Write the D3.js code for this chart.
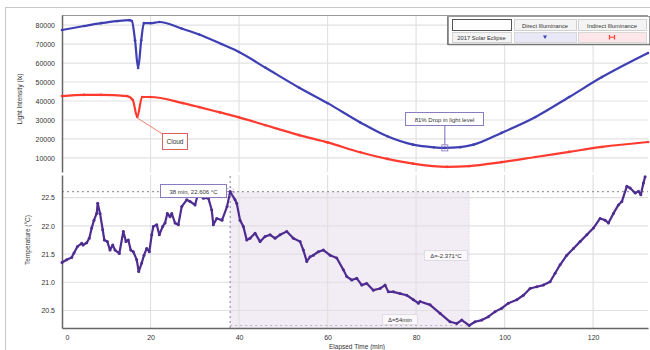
<!DOCTYPE html>
<html><head><meta charset="utf-8">
<script src="https://cdn.jsdelivr.net/npm/d3@7"></script>
<style>
body{margin:0;background:#fff;}
svg{display:block;font-family:"Liberation Sans",Arial,sans-serif;}
</style></head>
<body><svg id="c" width="650" height="350"></svg>
<script>
// ---- data ----
const directTime = [0,5,8.8,12.4,15.2,15.8,16.5,17.2,17.9,18.5,20,22,27,31,36,40,46,53.6,60,67.4,73.5,79.3,84,86.5,90,93,99.3,107,114.6,122,132.4];
const directLux  = [77400,79500,81000,82100,82600,82100,72000,57400,72000,81000,81000,81600,78200,75000,70000,65800,57500,47000,38900,28700,21400,17000,15600,15300,15700,17000,23200,31600,42100,52600,65300];
const indirectTime = [0,5,8.8,14.7,16.0,17.0,18.1,20,27.3,31,35.7,40,46,53.6,60,67.4,73.5,79.3,87,92,99.3,107,114.6,122,132.4];
const indirectLux  = [42600,43200,43200,42600,40500,31600,42100,42100,38900,36800,34000,31400,27200,22000,18200,13000,9500,7000,5300,5700,7800,10500,13200,15800,18400];
const tempTime = [0,1.06,2.19,2.71,3.46,4.45,4.75,5.58,6.17,6.71,7.23,7.84,8.07,8.59,9.2,9.56,10.24,10.85,11.46,11.98,12.95,13.85,14.46,14.98,15.53,16.11,16.88,17.33,18.01,18.53,19.14,19.73,20.27,20.63,21.4,21.99,22.76,23.28,23.8,24.41,24.79,25.54,26.28,27.05,28.18,28.93,30.06,30.58,31.19,31.93,33.06,33.83,34.19,34.96,36.16,37.29,38,39.1,39.48,40.23,40.97,41.74,42.49,43.62,44.75,45.88,47.01,48.14,49.27,50.78,52.27,53.79,54.53,55.3,56.05,56.79,57.92,59.05,60.56,62.08,63.57,64.34,65.47,66.6,67.73,68.86,70.35,71.86,72.99,73.74,74.87,76.38,77.9,79.39,80.52,80.9,83.16,85.42,87.68,89.2,90.33,92,93.33,94.85,96.34,97.85,99.37,100.86,102.76,104.25,105.76,107.28,108.77,110.28,111.41,112.54,114.06,115.55,117.06,118.58,120.07,121.58,122.71,123.46,124.59,125.72,126.49,127.62,128.36,129.49,130.24,130.78,131.37,131.75];
const tempC = [21.35,21.40,21.44,21.52,21.63,21.69,21.66,21.70,21.78,21.96,22.10,22.22,22.40,22.22,21.93,21.75,21.72,21.57,21.66,21.57,21.51,21.90,21.72,21.75,21.57,21.54,21.40,21.19,21.34,21.48,21.60,21.54,21.84,21.99,22.02,21.84,21.99,22.05,22.22,22.16,22.22,22.05,22.02,22.34,22.46,22.43,22.37,22.52,22.55,22.49,22.49,22.28,22.02,22.13,22.10,22.34,22.606,22.46,22.40,22.10,21.99,21.75,21.78,21.87,21.72,21.81,21.84,21.78,21.84,21.90,21.78,21.72,21.57,21.37,21.45,21.48,21.54,21.57,21.48,21.43,21.22,21.10,21.04,21.07,20.95,20.98,20.86,20.89,20.95,20.83,20.83,20.80,20.77,20.69,20.63,20.66,20.60,20.45,20.30,20.27,20.33,20.235,20.30,20.33,20.39,20.48,20.54,20.63,20.69,20.77,20.89,20.92,20.95,21.01,21.16,21.31,21.48,21.60,21.72,21.84,21.96,22.13,22.10,22.05,22.22,22.37,22.43,22.70,22.67,22.58,22.61,22.55,22.76,22.87];
const luxTicks = [10000,20000,30000,40000,50000,60000,70000,80000];
const tempTicks = [20.5,21.0,21.5,22.0,22.5];
const timeTicks = [0,20,40,60,80,100,120];
const legendSeries = ["Direct Illuminance","Indirect Illuminance"];
const legendRow = "2017 Solar Eclipse";
const peak = {t:38, v:22.606};
const minT = {t:92, v:20.235};

// ---- layout ----
const svg = d3.select("#c");
const L = 62, R = 648;
const x = d3.scaleLinear().domain([0,132.4]).range([L,R]);
const yL = d3.scaleLinear().domain([2600,85300]).range([172,15]);
const yT = d3.scaleLinear().domain([20.19,22.90]).range([328,175]);

// outer frame
svg.append("rect").attr("x",5.5).attr("y",7.5).attr("width",700).attr("height",400)
  .attr("fill","none").attr("stroke","#c8c8c8");

// ---- top panel ----
const gTop = svg.append("g");
gTop.selectAll(".hg").data(luxTicks).join("line")
  .attr("x1",L).attr("x2",R).attr("y1",d=>yL(d)).attr("y2",d=>yL(d))
  .attr("stroke","#e2e2e2").attr("stroke-width",1.2);
gTop.selectAll(".vg").data(timeTicks.slice(1)).join("line")
  .attr("x1",d=>x(d)).attr("x2",d=>x(d)).attr("y1",15).attr("y2",172)
  .attr("stroke","#e2e2e2").attr("stroke-width",1.2);
gTop.append("line").attr("x1",L).attr("x2",R).attr("y1",15.5).attr("y2",15.5).attr("stroke","#9a9a9a").attr("stroke-width",1.2);

const axL = gTop.append("g").attr("transform",`translate(${L},0)`)
  .call(d3.axisLeft(yL).tickValues(luxTicks).tickSize(0).tickPadding(7).tickFormat(d3.format("d")));
axL.select(".domain").attr("stroke","#666").attr("stroke-width",1.5);
axL.selectAll("text").attr("font-size",7).attr("fill","#333");
svg.append("text").attr("transform","translate(22,99) rotate(-90)").attr("text-anchor","middle")
  .attr("font-size",6.5).attr("fill","#333").text("Light Intensity (lx)");

const lineD = d3.line().x((d,i)=>x(directTime[i])).y(d=>yL(d)).curve(d3.curveMonotoneX);
const lineI = d3.line().x((d,i)=>x(indirectTime[i])).y(d=>yL(d)).curve(d3.curveMonotoneX);
gTop.append("path").attr("d",lineI(indirectLux)).attr("fill","none").attr("stroke","#ff3b2f").attr("stroke-width",2.2);
gTop.append("path").attr("d",lineD(directLux)).attr("fill","none").attr("stroke","#3f3fb4").attr("stroke-width",2.2);
gTop.selectAll(".dm").data(directLux).join("circle")
  .attr("cx",(d,i)=>x(directTime[i])).attr("cy",d=>yL(d)).attr("r",1.3).attr("fill","#3f3fb4");
gTop.selectAll(".im").data(indirectLux).join("circle")
  .attr("cx",(d,i)=>x(indirectTime[i])).attr("cy",d=>yL(d)).attr("r",1.3).attr("fill","#ff3b2f");

// Cloud annotation
const cloudX = x(indirectTime[5]), cloudY = yL(indirectLux[5]);
gTop.append("line").attr("x1",cloudX).attr("y1",cloudY+1).attr("x2",164).attr("y2",135)
  .attr("stroke","#f08070").attr("stroke-width",1);
gTop.append("rect").attr("x",162.5).attr("y",133.5).attr("width",25).attr("height",16)
  .attr("fill","#fff").attr("stroke","#e06060").attr("stroke-width",1);
gTop.append("text").attr("x",175).attr("y",144).attr("text-anchor","middle").attr("font-size",6.5).attr("fill","#333").text("Cloud");

// 81% drop annotation
const dropX = x(directTime[23]), dropY = yL(directLux[23]);
gTop.append("line").attr("x1",dropX).attr("x2",dropX).attr("y1",125).attr("y2",dropY-3).attr("stroke","#7a6cb0").attr("stroke-width",1);
gTop.append("rect").attr("x",dropX-3).attr("y",dropY-3).attr("width",6).attr("height",6).attr("fill","none").attr("stroke","#7a6cb0").attr("stroke-width",0.8);
gTop.append("rect").attr("x",405.5).attr("y",112.5).attr("width",78).attr("height",13)
  .attr("fill","#fff").attr("stroke","#8a7cc0").attr("stroke-width",1);
gTop.append("text").attr("x",444.5).attr("y",121.5).attr("text-anchor","middle").attr("font-size",6).attr("fill","#333").text("81% Drop in light level");

// legend table
const lg = svg.append("g");
lg.append("rect").attr("x",447.5).attr("y",16.5).attr("width",202).attr("height",28).attr("fill","#fff").attr("stroke","#999");
lg.append("line").attr("x1",448).attr("x2",650).attr("y1",44.5).attr("y2",44.5).attr("stroke","#777").attr("stroke-width",1.5);
lg.append("line").attr("x1",448).attr("x2",448).attr("y1",17).attr("y2",45).attr("stroke","#777").attr("stroke-width",1.5);
const cols = [{x:452,w:59},{x:514,w:62},{x:578,w:68}];
lg.append("rect").attr("x",cols[0].x+0.5).attr("y",19.5).attr("width",cols[0].w).attr("height",11).attr("fill","#fff").attr("stroke","#555");
legendSeries.forEach((s,i)=>{
  const c = cols[i+1];
  lg.append("rect").attr("x",c.x+0.5).attr("y",19.5).attr("width",c.w).attr("height",11).attr("fill","#f4f4f4").attr("stroke","#d0d0d0");
  lg.append("text").attr("x",c.x+c.w/2).attr("y",27.5).attr("text-anchor","middle").attr("font-size",5.8).attr("fill","#333").text(s);
  lg.append("rect").attr("x",c.x+0.5).attr("y",32.5).attr("width",c.w).attr("height",10)
    .attr("fill",i===0?"#e8e8f6":"#fde6ea").attr("stroke","#d8d8d8");
});
lg.append("rect").attr("x",cols[0].x+0.5).attr("y",32.5).attr("width",cols[0].w).attr("height",10).attr("fill","#f4f4f4").attr("stroke","#d0d0d0");
lg.append("text").attr("x",cols[0].x+cols[0].w/2).attr("y",40).attr("text-anchor","middle").attr("font-size",5.8).attr("fill","#333").text(legendRow);
// markers
const mx1 = cols[1].x+cols[1].w/2, mx2 = cols[2].x+cols[2].w/2;
lg.append("path").attr("d",`M${mx1-2},${35.5}L${mx1+2},${35.5}L${mx1},${39}Z`).attr("fill","#3f3fb4");
lg.append("path").attr("d",`M${mx2-2.5},${35}L${mx2-2.5},${39.5}M${mx2+2.5},${35}L${mx2+2.5},${39.5}M${mx2-2.5},37.25L${mx2+2.5},37.25`).attr("stroke","#ff3b2f").attr("stroke-width",1.2);

// ---- bottom panel ----
const gB = svg.append("g");
gB.append("rect").attr("x",x(peak.t)).attr("y",yT(peak.v)).attr("width",x(minT.t)-x(peak.t)).attr("height",328-yT(peak.v))
  .attr("fill","#f2ecf4");
gB.selectAll(".hg").data(tempTicks).join("line")
  .attr("x1",L).attr("x2",R).attr("y1",d=>yT(d)).attr("y2",d=>yT(d))
  .attr("stroke","#e0e0e0").attr("stroke-width",1.2);
gB.selectAll(".vg").data(timeTicks.slice(1)).join("line")
  .attr("x1",d=>x(d)).attr("x2",d=>x(d)).attr("y1",175).attr("y2",328)
  .attr("stroke","#e0e0e0").attr("stroke-width",1.2);
gB.append("line").attr("x1",L).attr("x2",R).attr("y1",yT(peak.v)).attr("y2",yT(peak.v))
  .attr("stroke","#9a9a9a").attr("stroke-width",1.2).attr("stroke-dasharray","2,3");
gB.append("line").attr("x1",x(peak.t)).attr("x2",x(peak.t)).attr("y1",176).attr("y2",328)
  .attr("stroke","#9a90b0").attr("stroke-width",1.2).attr("stroke-dasharray","2,3");
gB.append("line").attr("x1",x(peak.t)).attr("x2",x(minT.t)).attr("y1",yT(minT.v)).attr("y2",yT(minT.v))
  .attr("stroke","#b8b0c8").attr("stroke-width",1).attr("stroke-dasharray","2,3");
gB.append("line").attr("x1",x(minT.t)).attr("x2",x(minT.t)).attr("y1",yT(peak.v)).attr("y2",328)
  .attr("stroke","#e8c8d8").attr("stroke-width",1).attr("stroke-dasharray","1,2");

const axT = gB.append("g").attr("transform",`translate(${L},0)`)
  .call(d3.axisLeft(yT).tickValues(tempTicks).tickSize(0).tickPadding(7).tickFormat(d3.format(".1f")));
axT.select(".domain").attr("stroke","#666").attr("stroke-width",1.5);
axT.selectAll("text").attr("font-size",7).attr("fill","#333");
const axX = gB.append("g").attr("transform","translate(0,328)")
  .call(d3.axisBottom(x).tickValues(timeTicks).tickSize(0).tickPadding(7).tickFormat(d3.format("d")));
axX.select(".domain").attr("stroke","#666").attr("stroke-width",1.5);
axX.selectAll("text").attr("font-size",7).attr("fill","#333").attr("dx",(d)=>d===0?5:0);
svg.append("text").attr("transform","translate(30,240) rotate(-90)").attr("text-anchor","middle")
  .attr("font-size",6.5).attr("fill","#333").text("Temperature (°C)");
svg.append("text").attr("x",357).attr("y",348.5).attr("text-anchor","middle").attr("font-size",6.5).attr("fill","#333").text("Elapsed Time (min)");

const lineT = d3.line().x((d,i)=>x(tempTime[i])).y(d=>yT(d));
gB.append("path").attr("d",lineT(tempC)).attr("fill","none").attr("stroke","#4e2c90").attr("stroke-width",2.2).attr("stroke-linejoin","round");
gB.selectAll(".tm").data(tempC).join("circle")
  .attr("cx",(d,i)=>x(tempTime[i])).attr("cy",d=>yT(d)).attr("r",1.5).attr("fill","#4e2c90");

gB.append("circle").attr("cx",x(peak.t)).attr("cy",yT(peak.v)).attr("r",4).attr("fill","none")
  .attr("stroke","#8a7cc0").attr("stroke-width",0.8).attr("stroke-dasharray","1.5,1.5");
gB.append("rect").attr("x",160.5).attr("y",184.5).attr("width",66).attr("height",13)
  .attr("fill","#fff").attr("stroke","#8a7cc0").attr("stroke-width",1);
gB.append("text").attr("x",193.5).attr("y",193.5).attr("text-anchor","middle").attr("font-size",6).attr("fill","#333")
  .text(`${peak.t} min, ${peak.v} °C`);
const dT = (minT.v-peak.v).toFixed(3), dt = minT.t-peak.t;
gB.append("rect").attr("x",424.5).attr("y",250.5).attr("width",43).attr("height",10).attr("fill","#fbf8fb").attr("stroke","#e0dce4");
gB.append("text").attr("x",446).attr("y",258).attr("text-anchor","middle").attr("font-size",6).attr("fill","#333").text(`Δ=${dT}°C`);
gB.append("rect").attr("x",382.5).attr("y",314.5).attr("width",35).attr("height",10).attr("fill","#fbf8fb").attr("stroke","#e0dce4");
gB.append("text").attr("x",400).attr("y",322).attr("text-anchor","middle").attr("font-size",6).attr("fill","#333").text(`Δ=${dt}min`);
</script></body></html>
